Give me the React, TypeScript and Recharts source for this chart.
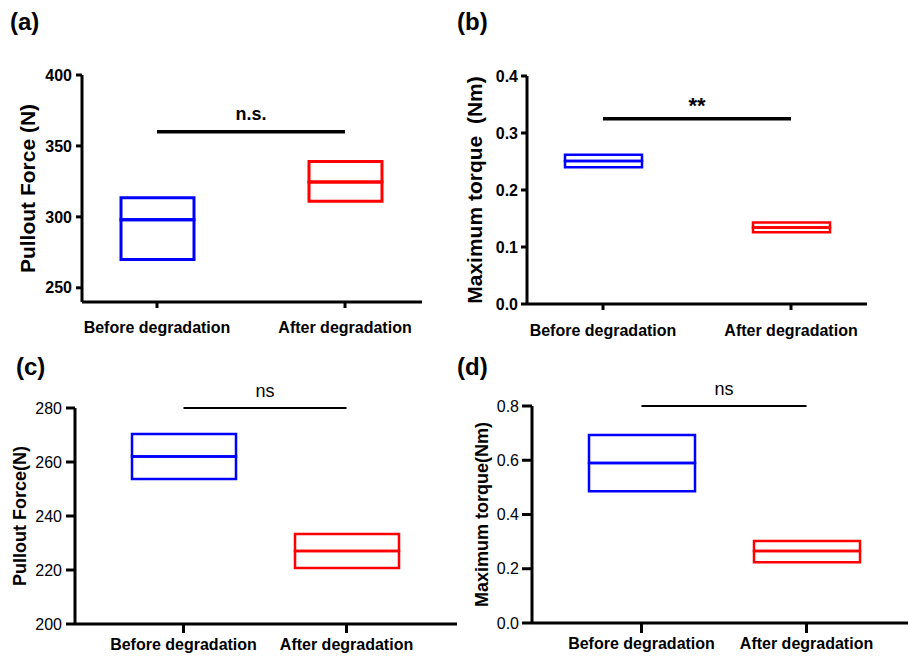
import React from "react";
import { ComposedChart, Bar, XAxis, YAxis, ReferenceLine, Cell } from "recharts";

const FONT = 'Arial, "Liberation Sans", sans-serif';

const categories = ["Before degradation", "After degradation"];
const boxColors = ["#0000ff", "#ff0000"];

// (a) pullout force, N
const aLow = [270, 311];
const aMedian = [298, 324.5];
const aHigh = [313.5, 339];
const aTicks = [250, 300, 350, 400];
const aSigY = 360;

// (b) maximum torque, Nm
const bLow = [0.24, 0.126];
const bMedian = [0.251, 0.134];
const bHigh = [0.262, 0.143];
const bTicks = [0, 0.1, 0.2, 0.3, 0.4];
const bSigY = 0.325;

// (c) pullout force, N
const cLow = [253.7, 220.7];
const cMedian = [262, 227];
const cHigh = [270.4, 233.3];
const cTicks = [200, 220, 240, 260, 280];
const cSigY = 280;

// (d) maximum torque, Nm
const dLow = [0.486, 0.224];
const dMedian = [0.59, 0.265];
const dHigh = [0.693, 0.302];
const dTicks = [0, 0.2, 0.4, 0.6, 0.8];
const dSigY = 0.8;

function buildRows(low: number[], med: number[], high: number[]) {
  return categories.map((name, i) => ({
    name,
    base: low[i],
    lower: med[i] - low[i],
    upper: high[i] - med[i],
  }));
}

// thick black axes + tick marks, like the Prism export
const axisCss = `
.box-panel .recharts-cartesian-axis line {
  stroke: #000 !important;
  stroke-width: 3px !important;
}
`;

interface PanelProps {
  left: number;
  top: number;
  width: number;
  height: number;
  margin: { top: number; right: number; bottom: number; left: number };
  yWidth: number;
  xPadding: { left: number; right: number };
  domain: [number, number];
  ticks: number[];
  decimals?: number;
  rows: ReturnType<typeof buildRows>;
  barSize: number;
  boxStroke: number;
  tickSize: number;
  xTickMargin: number;
  yTickMargin: number;
  yTickFont: React.CSSProperties;
  xTickFont: React.CSSProperties;
  yLabel: string;
  yLabelSize: number;
  yLabelOffset: number;
  sigY: number;
  sigText: string;
  sigStroke: number;
  sigFont: { fontSize: number; fontWeight: number };
  sigOffset: number;
}

function BoxPanel(p: PanelProps) {
  const fmt = (v: number) => (p.decimals != null ? v.toFixed(p.decimals) : String(v));
  const axisLine = { stroke: "#000", strokeWidth: 3 };
  return (
    <div className="box-panel" style={{ position: "absolute", left: p.left, top: p.top }}>
      <ComposedChart width={p.width} height={p.height} data={p.rows} margin={p.margin}>
        <XAxis
          dataKey="name"
          height={30}
          padding={p.xPadding}
          axisLine={axisLine}
          tickLine={axisLine}
          tickSize={p.tickSize}
          tickMargin={p.xTickMargin}
          interval={0}
          tick={{ fill: "#000", stroke: "none", fontFamily: FONT, ...p.xTickFont }}
        />
        <YAxis
          type="number"
          width={p.yWidth}
          domain={p.domain}
          ticks={p.ticks}
          allowDataOverflow
          axisLine={axisLine}
          tickLine={axisLine}
          tickSize={p.tickSize}
          tickMargin={p.yTickMargin}
          tickFormatter={fmt}
          tick={{ fill: "#000", stroke: "none", fontFamily: FONT, ...p.yTickFont }}
          label={{
            value: p.yLabel,
            angle: -90,
            position: "insideLeft",
            offset: p.yLabelOffset,
            fill: "#000",
            stroke: "none",
            fontSize: p.yLabelSize,
            fontWeight: 700,
            fontFamily: FONT,
            style: { textAnchor: "middle" },
          }}
        />
        <Bar dataKey="base" stackId="box" fill="none" stroke="none" barSize={p.barSize} isAnimationActive={false} />
        <Bar dataKey="lower" stackId="box" fill="none" strokeWidth={p.boxStroke} barSize={p.barSize} isAnimationActive={false}>
          {p.rows.map((r, i) => (
            <Cell key={r.name} stroke={boxColors[i]} />
          ))}
        </Bar>
        <Bar dataKey="upper" stackId="box" fill="none" strokeWidth={p.boxStroke} barSize={p.barSize} isAnimationActive={false}>
          {p.rows.map((r, i) => (
            <Cell key={r.name} stroke={boxColors[i]} />
          ))}
        </Bar>
        <ReferenceLine
          segment={[
            { x: categories[0], y: p.sigY },
            { x: categories[1], y: p.sigY },
          ]}
          ifOverflow="visible"
          stroke="#000"
          strokeWidth={p.sigStroke}
          label={{
            value: p.sigText,
            position: "top",
            offset: p.sigOffset,
            fill: "#000",
            fontFamily: FONT,
            ...p.sigFont,
          }}
        />
      </ComposedChart>
    </div>
  );
}

const letterStyle: React.CSSProperties = { fontFamily: FONT, fontWeight: 700, fontSize: 24, fill: "#000" };

export default function App() {
  return (
    <div style={{ position: "absolute", left: 0, top: 0, width: 909, height: 656, background: "#fff", overflow: "hidden" }}>
      <style>{axisCss}</style>
      <BoxPanel
        left={0}
        top={0}
        width={460}
        height={340}
        margin={{ top: 75, right: 38, bottom: 8, left: 0 }}
        yWidth={82}
        xPadding={{ left: -19, right: -17 }}
        domain={[240, 400]}
        ticks={aTicks}
        rows={buildRows(aLow, aMedian, aHigh)}
        barSize={73}
        boxStroke={3}
        tickSize={6}
        xTickMargin={14}
        yTickMargin={4}
        yTickFont={{ fontSize: 16, fontWeight: 700 }}
        xTickFont={{ fontSize: 16, fontWeight: 700 }}
        yLabel="Pullout Force (N)"
        yLabelSize={21}
        yLabelOffset={28}
        sigY={aSigY}
        sigText="n.s."
        sigStroke={3.5}
        sigFont={{ fontSize: 18, fontWeight: 700 }}
        sigOffset={12}
      />
      <BoxPanel
        left={450}
        top={0}
        width={459}
        height={340}
        margin={{ top: 76, right: 42, bottom: 6, left: 0 }}
        yWidth={77}
        xPadding={{ left: -18, right: -18 }}
        domain={[0, 0.4]}
        ticks={bTicks}
        decimals={1}
        rows={buildRows(bLow, bMedian, bHigh)}
        barSize={77}
        boxStroke={2.5}
        tickSize={6}
        xTickMargin={15}
        yTickMargin={3}
        yTickFont={{ fontSize: 16, fontWeight: 700 }}
        xTickFont={{ fontSize: 16, fontWeight: 700 }}
        yLabel={"Maximum torque\u00A0 (Nm)"}
        yLabelSize={21}
        yLabelOffset={25}
        sigY={bSigY}
        sigText="**"
        sigStroke={3.5}
        sigFont={{ fontSize: 22, fontWeight: 700 }}
        sigOffset={6}
      />
      <BoxPanel
        left={0}
        top={330}
        width={460}
        height={326}
        margin={{ top: 78, right: 3, bottom: 2, left: 0 }}
        yWidth={75}
        xPadding={{ left: 27, right: 29 }}
        domain={[200, 280]}
        ticks={cTicks}
        rows={buildRows(cLow, cMedian, cHigh)}
        barSize={104}
        boxStroke={2.5}
        tickSize={9}
        xTickMargin={6}
        yTickMargin={4}
        yTickFont={{ fontSize: 16, fontWeight: 400 }}
        xTickFont={{ fontSize: 16, fontWeight: 700 }}
        yLabel="Pullout Force(N)"
        yLabelSize={18}
        yLabelOffset={20}
        sigY={cSigY}
        sigText="ns"
        sigStroke={2}
        sigFont={{ fontSize: 18, fontWeight: 400 }}
        sigOffset={11}
      />
      <BoxPanel
        left={450}
        top={330}
        width={459}
        height={326}
        margin={{ top: 76, right: 1, bottom: 3, left: 0 }}
        yWidth={82}
        xPadding={{ left: 27, right: 19 }}
        domain={[0, 0.8]}
        ticks={dTicks}
        decimals={1}
        rows={buildRows(dLow, dMedian, dHigh)}
        barSize={106}
        boxStroke={2.5}
        tickSize={10}
        xTickMargin={5}
        yTickMargin={3}
        yTickFont={{ fontSize: 16, fontWeight: 400 }}
        xTickFont={{ fontSize: 16, fontWeight: 700 }}
        yLabel="Maximum torque(Nm)"
        yLabelSize={18}
        yLabelOffset={32}
        sigY={dSigY}
        sigText="ns"
        sigStroke={2}
        sigFont={{ fontSize: 18, fontWeight: 400 }}
        sigOffset={11}
      />
      <svg width={909} height={656} style={{ position: "absolute", left: 0, top: 0, pointerEvents: "none" }}>
        <text x={10} y={30} style={letterStyle}>(a)</text>
        <text x={457} y={30} style={letterStyle}>(b)</text>
        <text x={16} y={375} style={letterStyle}>(c)</text>
        <text x={457} y={375} style={letterStyle}>(d)</text>
      </svg>
    </div>
  );
}
